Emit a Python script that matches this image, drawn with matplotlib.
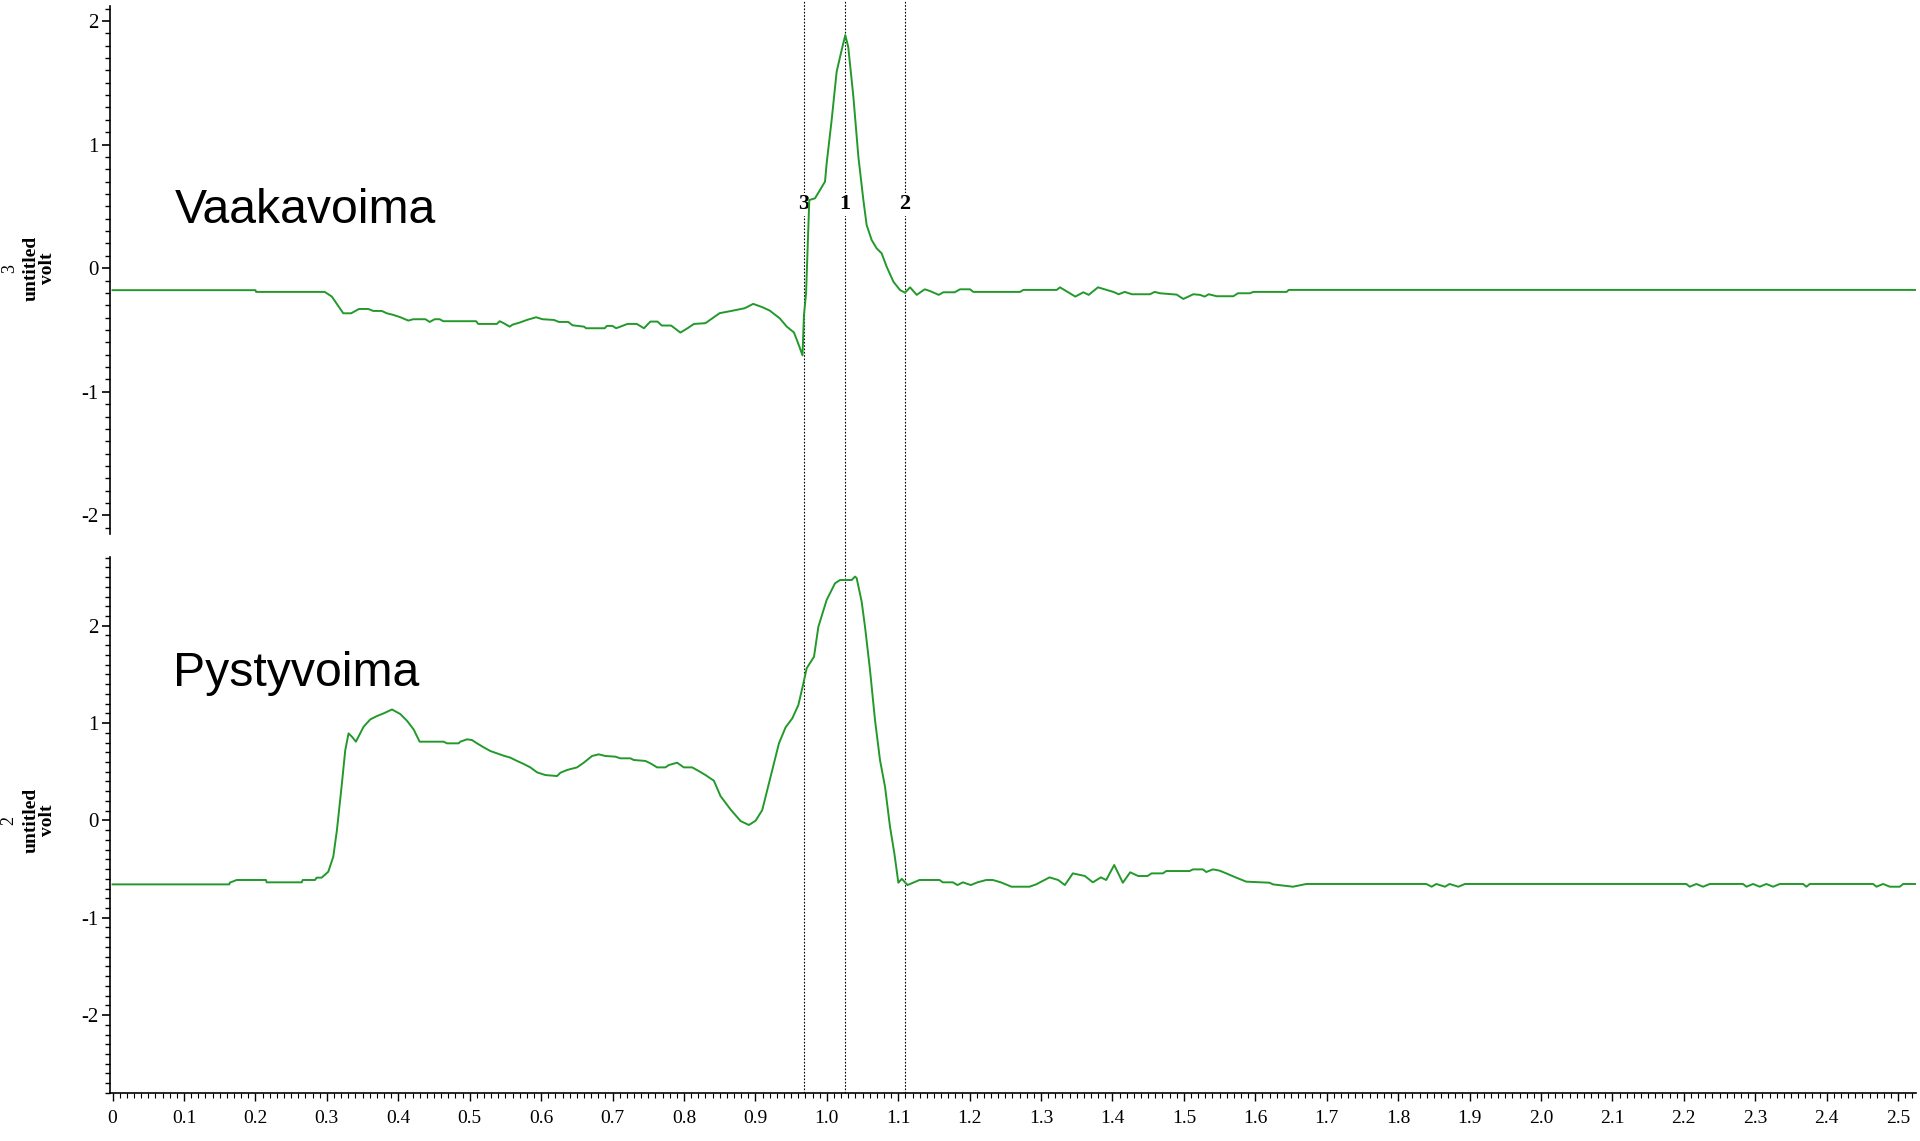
import numpy as np
import matplotlib
matplotlib.use("Agg")
import matplotlib.pyplot as plt
from matplotlib.ticker import MultipleLocator

plt.rcParams["axes.unicode_minus"] = False

# channel 3 - horizontal force (Vaakavoima)
top_t = [0.0, 0.200, 0.201, 0.297, 0.307, 0.323, 0.334, 0.345, 0.358, 0.365, 0.377, 0.384,
         0.393, 0.403, 0.414, 0.421, 0.438, 0.444, 0.451, 0.458, 0.463, 0.509, 0.512, 0.538,
         0.542, 0.548, 0.556, 0.560, 0.570, 0.580, 0.593, 0.602, 0.618, 0.625, 0.638, 0.644,
         0.660, 0.663, 0.689, 0.692, 0.700, 0.705, 0.711, 0.721, 0.734, 0.744, 0.753, 0.763,
         0.769, 0.782, 0.795, 0.805, 0.814, 0.830, 0.850, 0.869, 0.885, 0.897, 0.910, 0.920,
         0.934, 0.944, 0.954, 0.959, 0.966, 0.968, 0.971, 0.9755, 0.9835, 0.9905, 0.9975,
         0.9998, 1.0068, 1.0138, 1.0208, 1.0259, 1.030, 1.0372, 1.0442, 1.0512, 1.0558,
         1.0628, 1.0698, 1.0768, 1.0838, 1.0932, 1.1025, 1.1095, 1.1166, 1.1259, 1.1371,
         1.1445, 1.1567, 1.1632, 1.1791, 1.1865, 1.2005, 1.2052, 1.2705, 1.2752, 1.3219,
         1.3265, 1.3480, 1.3592, 1.3667, 1.3797, 1.3919, 1.4012, 1.4087, 1.4171, 1.4273,
         1.4525, 1.4590, 1.4665, 1.4899, 1.4992, 1.5132, 1.5225, 1.5291, 1.5347, 1.5459,
         1.5692, 1.5757, 1.5925, 1.5972, 1.6439, 1.6467, 2.525]
top_v = [-0.178, -0.178, -0.192, -0.192, -0.230, -0.365, -0.365, -0.330, -0.330, -0.346, -0.346, -0.365,
         -0.378, -0.397, -0.424, -0.413, -0.413, -0.435, -0.413, -0.413, -0.429, -0.429, -0.451, -0.451,
         -0.429, -0.446, -0.473, -0.457, -0.440, -0.419, -0.397, -0.413, -0.419, -0.435, -0.435, -0.462,
         -0.473, -0.486, -0.486, -0.467, -0.467, -0.486, -0.473, -0.451, -0.451, -0.486, -0.432, -0.432,
         -0.464, -0.464, -0.521, -0.486, -0.451, -0.445, -0.364, -0.343, -0.324, -0.289, -0.316, -0.343,
         -0.405, -0.473, -0.520, -0.594, -0.705, -0.38, -0.20, 0.551, 0.565, 0.632, 0.700,
         0.848, 1.198, 1.589, 1.764, 1.885, 1.79, 1.387, 0.902, 0.551, 0.349,
         0.228, 0.160, 0.120, 0.012, -0.109, -0.177, -0.198, -0.155, -0.216, -0.171,
         -0.185, -0.216, -0.195, -0.195, -0.171, -0.171, -0.192, -0.192, -0.176, -0.176,
         -0.155, -0.230, -0.195, -0.216, -0.155, -0.176, -0.192, -0.211, -0.192, -0.211,
         -0.211, -0.192, -0.203, -0.214, -0.249, -0.211, -0.216, -0.230, -0.211, -0.227,
         -0.227, -0.203, -0.203, -0.192, -0.192, -0.176, -0.176]

# channel 2 - vertical force (Pystyvoima)
bot_t = [0.0, 0.1634, 0.164, 0.1737, 0.2148, 0.2157, 0.2648, 0.2662, 0.2834, 0.2857, 0.2927, 0.302,
         0.309, 0.3141, 0.3211, 0.3258, 0.3304, 0.3351, 0.3407, 0.3515, 0.3608, 0.3701, 0.3795,
         0.3912, 0.4028, 0.4122, 0.4215, 0.4299, 0.4635, 0.4682, 0.4845, 0.4869, 0.4962, 0.5032,
         0.5102, 0.5196, 0.5289, 0.5382, 0.5476, 0.5569, 0.5663, 0.5756, 0.5849, 0.5943, 0.606,
         0.6223, 0.627, 0.6363, 0.6503, 0.6597, 0.6713, 0.6807, 0.690, 0.704, 0.711, 0.725,
         0.7297, 0.746, 0.753, 0.7624, 0.774, 0.7788, 0.7904, 0.7998, 0.8115, 0.8208, 0.8302,
         0.8419, 0.8512, 0.8652, 0.8792, 0.8909, 0.9003, 0.9096, 0.9213, 0.933, 0.9423, 0.9517,
         0.9602, 0.9672, 0.9718, 0.9821, 0.9882, 0.9998, 1.0115, 1.0185, 1.0349, 1.0395, 1.0418,
         1.0488, 1.0535, 1.0605, 1.0675, 1.0745, 1.0815, 1.0885, 1.0946, 1.1002, 1.105, 1.113,
         1.1298, 1.1578, 1.1625, 1.1765, 1.183, 1.1905, 1.2017, 1.211, 1.2232, 1.2325, 1.2437,
         1.2586, 1.2838, 1.2931, 1.3118, 1.324, 1.3333, 1.3445, 1.3613, 1.3725, 1.3837, 1.3912,
         1.4024, 1.4145, 1.4248, 1.436, 1.4491, 1.4547, 1.4706, 1.4753, 1.508, 1.5126, 1.5266,
         1.5313, 1.5406, 1.55, 1.5593, 1.5733, 1.5873, 1.62, 1.6247, 1.6527, 1.6714, 1.8394,
         1.8469, 1.8534, 1.8655, 1.872, 1.8842, 1.8936, 2.2035, 2.2082, 2.2175, 2.2269, 2.2362,
         2.2829, 2.2876, 2.2969, 2.3062, 2.3156, 2.325, 2.3343, 2.367, 2.3716, 2.3763, 2.465,
         2.4697, 2.479, 2.4884, 2.5024, 2.507, 2.525]
bot_v = [-0.657, -0.657, -0.640, -0.612, -0.612, -0.636, -0.636, -0.612, -0.612, -0.588, -0.588, -0.527,
         -0.373, -0.10, 0.381, 0.723, 0.894, 0.860, 0.809, 0.963, 1.038, 1.072, 1.100,
         1.140, 1.093, 1.024, 0.935, 0.809, 0.809, 0.792, 0.792, 0.809, 0.833, 0.826,
         0.792, 0.751, 0.713, 0.689, 0.665, 0.645, 0.611, 0.580, 0.545, 0.494, 0.466,
         0.456, 0.490, 0.518, 0.545, 0.593, 0.662, 0.679, 0.662, 0.655, 0.638, 0.638,
         0.621, 0.611, 0.587, 0.545, 0.545, 0.569, 0.593, 0.545, 0.545, 0.507, 0.466,
         0.408, 0.250, 0.113, -0.006, -0.047, -0.003, 0.106, 0.449, 0.792, 0.956, 1.049,
         1.186, 1.408, 1.563, 1.682, 1.990, 2.265, 2.436, 2.470, 2.470, 2.505, 2.49,
         2.248, 1.990, 1.545, 1.031, 0.620, 0.346, -0.065, -0.339, -0.640, -0.600, -0.664,
         -0.612, -0.612, -0.636, -0.636, -0.664, -0.636, -0.664, -0.636, -0.612, -0.612, -0.636,
         -0.681, -0.681, -0.657, -0.585, -0.612, -0.664, -0.544, -0.571, -0.636, -0.585, -0.612,
         -0.458, -0.640, -0.533, -0.571, -0.571, -0.544, -0.544, -0.520, -0.520, -0.503, -0.503,
         -0.530, -0.503, -0.516, -0.544, -0.588, -0.629, -0.640, -0.657, -0.681, -0.653, -0.653,
         -0.681, -0.653, -0.681, -0.653, -0.681, -0.653, -0.653, -0.681, -0.653, -0.681, -0.653,
         -0.653, -0.681, -0.653, -0.681, -0.653, -0.681, -0.653, -0.653, -0.681, -0.653, -0.653,
         -0.681, -0.653, -0.681, -0.681, -0.653, -0.653]

cursor_t = [0.9677, 1.0259, 1.1095]
cursor_labels = ["3", "1", "2"]

x_ticks = [round(0.1 * i, 1) for i in range(26)]
x_labels = ["0"] + [f"{v:.1f}" for v in x_ticks[1:]]
y_ticks = [-2, -1, 0, 1, 2]
y_labels = ["-2", "-1", "0", "1", "2"]

green = "#22992a"
serif = "Liberation Serif"
xlim = (-0.0036, 2.525)

fig = plt.figure(figsize=(19.2, 11.41), dpi=100)

# cursor lines spanning both panels, drawn underneath the traces
ax_over = fig.add_axes([0.0573, 0.0421, 0.9406, 0.9579], zorder=0)
ax_over.set_xlim(*xlim)
ax_over.set_ylim(0, 1)
ax_over.axis("off")
for t, lab in zip(cursor_t, cursor_labels):
    ax_over.axvline(t, color="black", lw=0.8, ls=(0, (1.5, 1.5)))
    ax_over.text(t, 0.813, lab, ha="center", va="center", fontfamily=serif,
                 fontweight="bold", fontsize=16,
                 bbox=dict(facecolor="white", edgecolor="none", pad=1))

ax1 = fig.add_axes([0.0573, 0.532, 0.9406, 0.4627], zorder=1)
ax2 = fig.add_axes([0.0573, 0.0421, 0.9406, 0.4697], zorder=1)

for ax in (ax1, ax2):
    ax.patch.set_alpha(0)
    ax.set_xlim(*xlim)
    ax.spines["top"].set_visible(False)
    ax.spines["right"].set_visible(False)
    ax.spines["left"].set_linewidth(1.2)
    ax.yaxis.set_major_locator(MultipleLocator(1))
    ax.yaxis.set_minor_locator(MultipleLocator(0.1))
    ax.set_yticks(y_ticks)
    ax.set_yticklabels(y_labels, fontfamily=serif, fontsize=15)
    ax.tick_params(axis="y", which="major", length=6, width=1.2, pad=2)
    ax.tick_params(axis="y", which="minor", length=3.5, width=1.0)

ax1.plot(top_t, top_v, color=green, lw=1.4)
ax1.set_ylim(-2.15, 2.12)
ax1.spines["bottom"].set_visible(False)
ax1.tick_params(axis="x", which="both", bottom=False, labelbottom=False)

ax2.plot(bot_t, bot_v, color=green, lw=1.4)
ax2.set_ylim(-2.8, 2.706)
ax2.spines["bottom"].set_linewidth(1.2)
ax2.xaxis.set_minor_locator(MultipleLocator(0.01))
ax2.set_xticks(x_ticks)
ax2.set_xticklabels(x_labels, fontfamily=serif, fontsize=14)
ax2.tick_params(axis="x", which="major", length=6, width=1.0, pad=6)
ax2.tick_params(axis="x", which="minor", length=3.5, width=0.8)

# channel labels on the left
for ax, ch in ((ax1, "3"), (ax2, "2")):
    y0 = ax.transData.transform((0, 0))[1]
    yf = fig.transFigure.inverted().transform((0, y0))[1]
    fig.text(0.0205, yf, "untitled\nvolt", rotation=90, ha="center", va="center",
             fontfamily=serif, fontweight="bold", fontsize=14, linespacing=0.95)
    fig.text(0.0048, yf, ch, rotation=90, ha="center", va="center",
             fontfamily=serif, fontsize=13)

ax1.text(0.0865, 2.12 - (222.9 - 6) / 123.7, "Vaakavoima", ha="left", va="baseline",
         fontfamily="Liberation Sans", fontsize=34.7, transform=ax1.transData)
ax2.text(0.0840, 2.706 - (685.7 - 557) / 97.35, "Pystyvoima", ha="left", va="baseline",
         fontfamily="Liberation Sans", fontsize=34.7, transform=ax2.transData)

fig.savefig("out.png", dpi=100)
